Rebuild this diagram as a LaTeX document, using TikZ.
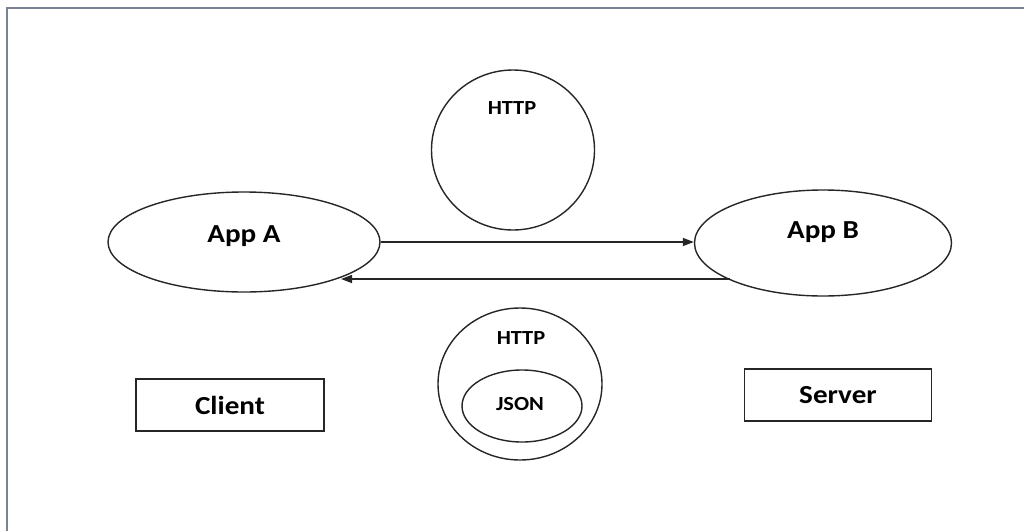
\documentclass[tikz,border=0pt]{standalone}
\usepackage{fontspec}
\setmainfont{Carlito}
\newfontfamily\labelfont[FakeStretch=1.12]{Carlito}
\usetikzlibrary{arrows.meta,shapes.geometric}
\definecolor{framegray}{HTML}{7A8294}
\tikzset{
  shape line/.style={draw=black!85, line width=1.4pt},
  app/.style={shape line, ellipse, inner sep=0pt},
  bigtext/.style={inner sep=0pt, font=\labelfont\bfseries\fontsize{26}{30}\selectfont},
  tag/.style={inner sep=0pt, font=\labelfont\bfseries\fontsize{20}{24}\selectfont},
  rolebox/.style={shape line, rectangle, line width=1.2pt, inner sep=0pt, font=\labelfont\bfseries\fontsize{26}{30}\selectfont},
  link/.style={draw=black!85, line width=1.4pt, -{Triangle[length=11pt,width=8pt]}},
}
\begin{document}
\begin{tikzpicture}[x=1pt,y=-1pt]
\useasboundingbox (0,0) rectangle (1024,530);
% outer frame (top and left edges)
\draw[framegray, line width=2.5pt] (7,531) -- (7,8) -- (1025,8);

% applications
\node[app, minimum width=272pt, minimum height=100pt] (appA) at (244,242) {};
\node[bigtext] (appAt) at (244,236) {App A};
\node[app, minimum width=257pt, minimum height=106pt] (appB) at (823,243) {};
\node[bigtext] (appBt) at (823,232) {App B};

% protocol bubbles
\node[shape line, ellipse, minimum width=163pt, minimum height=160pt] (http1) at (513,150) {};
\node[tag] (http1t) at (512,108) {HTTP};
\node[shape line, ellipse, minimum width=164pt, minimum height=152pt] (http2) at (520,384) {};
\node[tag] (http2t) at (521,338) {HTTP};
\node[shape line, ellipse, minimum width=120pt, minimum height=72pt] (json) at (522,406) {};
\node[tag] (jsont) at (520,404) {JSON};

% roles
\node[rolebox, minimum width=188pt, minimum height=52pt] (client) at (230,405) {Client};
\node[rolebox, minimum width=187pt, minimum height=52pt] (server) at (838,395) {Server};

% messages
\coordinate (reqS) at (378,242);
\coordinate (respS) at (730,279);
\coordinate (respE) at (341,279);
\draw[link] (appA.east |- reqS) -- (appB.west |- reqS);
\draw[link] (respS) -- (respE);
\end{tikzpicture}
\end{document}
